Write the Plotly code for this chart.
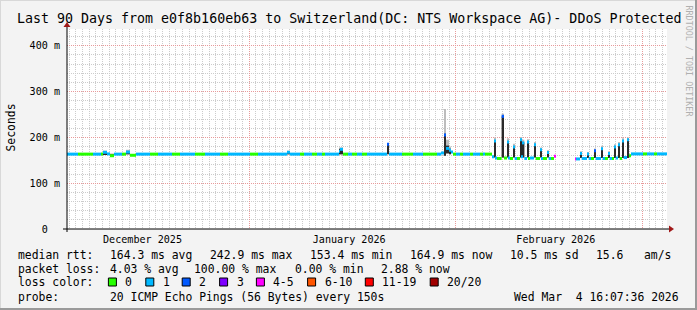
import plotly.graph_objects as go
import pandas as pd

# ---------------- data ----------------
start = pd.Timestamp("2025-12-04 16:07:36")
end = pd.Timestamp("2026-03-04 16:07:36")

# median rtt: start of each step (days from start), value (ms), loss bucket; None = no data
t_days = [0.0, 1.65, 3.9, 5.1, 5.4, 6.0, 6.45, 7.05, 8.25, 8.85, 9.45, 10.35, 12.45, 13.65,
          15.75, 16.95, 19.2, 20.7, 22.95, 24.15, 27.45, 28.65, 33.0, 33.45, 34.95, 35.55,
          36.75, 37.5, 38.25, 38.7, 40.8, 40.95, 41.4, 42.15, 42.75, 43.5, 44.25, 45.0,
          48.0, 48.3, 50.25, 51.9, 53.4, 55.5, 56.1, 56.55, 56.85, 57.3, 57.6, 57.9, 58.35,
          58.95, 59.4, 60.45, 60.9, 61.95, 62.4, 62.7,
          63.75, 64.05, 64.3, 64.5, 65.2, 65.55, 66.0, 66.25, 66.45, 66.9, 67.15, 67.5,
          67.95, 68.2, 68.35, 68.6, 69.0, 69.25, 69.45, 70.05, 70.3, 70.95, 71.2, 71.4,
          72.0, 72.25, 72.6, 73.05, 73.35,
          76.2, 76.35, 76.95, 77.2, 78.0, 78.25, 78.6, 79.05, 79.3, 80.1, 80.35, 80.7,
          81.15, 81.4, 81.75, 82.05, 82.3, 82.65, 82.9, 83.25, 83.5, 84.0, 84.3, 84.6,
          86.4, 87.0, 88.05, 88.5, 90.0]
median_ms = [163.5, 163.5, 163.5, 164, 167.5, 164, 160, 163.5, 163.5, 168, 161, 163.5, 163.5, 163.5,
             163.5, 163.5, 163.5, 163.5, 163.5, 163.5, 163.5, 163.5, 167.5, 163.5, 163.5, 163.5,
             163.5, 163.5, 163.5, 163.5, 170, 174, 163.5, 163.5, 163.5, 163.5, 163.5, 163.5,
             185, 163.5, 163.5, 163.5, 163.5, 163.5, 166, 205, 176, 172, 168, 163.5, 163.5,
             163.5, 163.5, 163.5, 163.5, 163.5, 163.5, 163.5,
             158, 192, 155, 154, 246, 155, 190, 155, 154, 179, 154, 154,
             195, 158, 188, 154, 190, 154, 155, 184, 154, 173, 154, 154,
             167, 154, 154, 159, None,
             153, 153, 165, 154, 164, 154, 154, 171, 154, 175, 154, 154,
             165, 154, 154, 179, 155, 184, 154, 192, 156, 195, 160, 164,
             164, 164, 164, 164, None]
loss_idx = [1, 0, 1, 0, 1, 1, 0, 1, 0, 1, 0, 1, 0, 1,
            0, 1, 0, 1, 0, 1, 0, 1, 1, 1, 0, 1,
            0, 1, 0, 1, 1, 1, 0, 1, 0, 1, 0, 1,
            2, 1, 0, 1, 0, 1, 1, 2, 1, 1, 1, 0, 1,
            0, 1, 0, 1, 0, 1, 0,
            1, 1, 1, 0, 2, 0, 1, 1, 0, 1, 1, 0,
            1, 1, 1, 1, 1, 0, 1, 1, 0, 1, 1, 0,
            1, 1, 0, 4, 0,
            4, 1, 1, 1, 1, 1, 0, 2, 1, 1, 1, 0,
            1, 1, 0, 1, 1, 1, 0, 1, 1, 1, 0, 1,
            0, 1, 0, 1, 0]

# ping spread (smoke): start/end day, lowest ping, upper edge of dense band, highest ping (ms)
smoke_start = [5.4, 6.45, 8.85, 33.0, 40.8, 48.0, 56.55, 56.85, 57.3,
               64.05, 65.2, 66.0, 66.9, 67.95, 68.35, 69.0, 70.05, 70.95, 72.0,
               76.95, 78.0, 79.05, 80.1, 81.15, 82.05, 82.65, 83.25, 84.0]
smoke_end = [6.0, 7.05, 9.45, 33.45, 41.4, 48.3, 56.85, 57.3, 57.6,
             64.3, 65.55, 66.25, 67.15, 68.2, 68.6, 69.25, 70.3, 71.2, 72.25,
             77.2, 78.25, 79.3, 80.35, 81.4, 82.3, 82.9, 83.5, 84.3]
smoke_lo = [163, 158, 163, 163, 163, 163, 160, 165, 163,
            156, 156, 156, 156, 156, 156, 156, 156, 156, 156,
            155, 155, 155, 155, 155, 155, 155, 155, 155]
smoke_hi = [165, 163, 170, 168, 175, 186, 208, 182, 175,
            192, 246, 190, 179, 195, 189, 190, 184, 173, 167,
            165, 164, 171, 175, 165, 180, 184, 192, 195]
smoke_top = [171, 165, 173, 171, 178, 188, 262, 195, 180,
             200, 252, 198, 186, 201, 195, 196, 190, 178, 172,
             170, 168, 176, 182, 170, 185, 190, 198, 200]

loss_labels = ["0", "1", "2", "3", "4-5", "6-10", "11-19", "20/20"]
loss_colors = ["#26ff00", "#00b8ff", "#0059ff", "#7e00ff", "#ff00ff", "#ff5500", "#ff0000", "#a10000"]

y_tick_vals = [0, 100, 200, 300, 400]
y_tick_text = ["0\u00a0\u00a0", "100 m", "200 m", "300 m", "400 m"]
month_starts = ["2026-01-01", "2026-02-01", "2026-03-01"]
month_label_pos = ["2025-12-16", "2026-01-16", "2026-02-16"]
month_labels = ["December 2025", "January 2026", "February 2026"]

title = "Last 90 Days from e0f8b160eb63 to Switzerland(DC: NTS Workspace AG)- DDoS Protected"
legend_rows = [
    [("median rtt:", 16.4), ("164.3 ms avg", 107.6), ("242.9 ms max", 207.6), ("153.4 ms min", 307.6),
     ("164.9 ms now", 407.6), ("10.5 ms sd", 507.6), ("15.6", 594), ("am/s", 642)],
    [("packet loss:", 16.4), ("4.03 % avg", 107.6), ("100.00 % max", 192), ("0.00 % min", 293.3),
     ("2.88 % now", 378.7)],
]
probe_text = "20 ICMP Echo Pings (56 Bytes) every 150s"
date_text = "Wed Mar  4 16:07:36 2026"

# ---------------- geometry ----------------
W, H = 697, 310
L, R, T, B = 67, 30, 29, 81
PW, PH = W - L - R, H - T - B
YMAX = 436.7
MONO = "DejaVu Sans Mono"
DAY_MS = 86400000


def px(x):
    return (x - L) / PW


def py(y):
    return (H - B - y) / PH


def day(d):
    return start + pd.Timedelta(days=d)


mid, wid, med, mcol = [], [], [], []
for i in range(len(t_days) - 1):
    if median_ms[i] is None:
        continue
    mid.append(day((t_days[i] + t_days[i + 1]) / 2))
    wid.append((t_days[i + 1] - t_days[i]) * DAY_MS)
    med.append(median_ms[i])
    mcol.append(loss_colors[loss_idx[i]])

s_mid = [day((a + b) / 2) for a, b in zip(smoke_start, smoke_end)]
s_wid = [(b - a) * DAY_MS for a, b in zip(smoke_start, smoke_end)]

half = 1.5 * YMAX / PH  # median tick half-thickness (1.5 px)

fig = go.Figure()
fig.add_trace(go.Bar(x=s_mid, y=[t - l for t, l in zip(smoke_top, smoke_lo)], base=smoke_lo, width=s_wid,
                     marker=dict(color="#bdbdbd", line=dict(width=0)), hoverinfo="skip"))
fig.add_trace(go.Bar(x=s_mid, y=[h - l for h, l in zip(smoke_hi, smoke_lo)], base=smoke_lo, width=s_wid,
                     marker=dict(color="#2a2a2a", line=dict(width=0)), hoverinfo="skip"))
fig.add_trace(go.Bar(x=mid, y=[2 * half] * len(med), base=[v - half for v in med], width=wid,
                     marker=dict(color=mcol, line=dict(width=0)), hoverinfo="skip"))
fig.add_trace(go.Scatter(x=[], y=[], xaxis="x2", yaxis="y"))

shapes = []
# axis lines and arrows
shapes.append(dict(type="line", xref="paper", yref="paper", x0=px(63), x1=px(670), y0=0, y1=0,
                   line=dict(color="black", width=1)))
shapes.append(dict(type="line", xref="paper", yref="paper", x0=0, x1=0, y0=py(232), y1=py(25),
                   line=dict(color="black", width=1)))
shapes.append(dict(type="path", xref="paper", yref="paper",
                   path=f"M {px(669)} {py(225.5)} L {px(674)} {py(229)} L {px(669)} {py(232.5)} Z",
                   fillcolor="#a01818", line=dict(width=0)))
shapes.append(dict(type="path", xref="paper", yref="paper",
                   path=f"M {px(63.5)} {py(27)} L {px(67)} {py(22)} L {px(70.5)} {py(27)} Z",
                   fillcolor="#a01818", line=dict(width=0)))
# 3D frame
shapes.append(dict(type="line", xref="paper", yref="paper", x0=px(0), x1=px(697), y0=py(0.5), y1=py(0.5),
                   line=dict(color="#d8d8d8", width=1)))
shapes.append(dict(type="line", xref="paper", yref="paper", x0=px(0.5), x1=px(0.5), y0=py(0), y1=py(310),
                   line=dict(color="#d8d8d8", width=1)))
shapes.append(dict(type="line", xref="paper", yref="paper", x0=px(0), x1=px(697), y0=py(309), y1=py(309),
                   line=dict(color="#9a9a9a", width=2)))
shapes.append(dict(type="line", xref="paper", yref="paper", x0=px(696), x1=px(696), y0=py(0), y1=py(310),
                   line=dict(color="#9a9a9a", width=2)))

annotations = []
annotations.append(dict(text=title, x=px(348.5), y=py(18), xref="paper", yref="paper", showarrow=False,
                        xanchor="center", yanchor="middle", font=dict(family=MONO, size=13.3, color="black")))
annotations.append(dict(text="Seconds", textangle=-90, x=px(10.5), y=py(128), xref="paper", yref="paper",
                        showarrow=False, xanchor="center", yanchor="middle",
                        font=dict(family=MONO, size=11.4, color="black")))
annotations.append(dict(text="RRDTOOL / TOBI OETIKER", textangle=90, x=px(688.5), y=py(61), xref="paper",
                        yref="paper", showarrow=False, xanchor="center", yanchor="middle",
                        font=dict(family=MONO, size=8.4, color="#b0b0b0")))
LEG = dict(family=MONO, size=11.4, color="black")
for row, yy in zip(legend_rows, [255, 268.5]):
    for txt, xx in row:
        annotations.append(dict(text=txt.replace(" ", "\u00a0"), x=px(xx), y=py(yy), xref="paper",
                                yref="paper", showarrow=False, xanchor="left", yanchor="middle", font=LEG))
annotations.append(dict(text="loss\u00a0color:", x=px(16.4), y=py(282), xref="paper", yref="paper",
                        showarrow=False, xanchor="left", yanchor="middle", font=LEG))
box_x = [108.4, 145.8, 182.2, 219.6, 256.4, 307.6, 365.3, 430.2]
for lab, col, bx in zip(loss_labels, loss_colors, box_x):
    shapes.append(dict(type="rect", xref="paper", yref="paper", x0=px(bx), x1=px(bx + 8),
                       y0=py(286), y1=py(278), fillcolor=col, line=dict(color="black", width=1)))
    annotations.append(dict(text=lab, x=px(bx + 15), y=py(282), xref="paper", yref="paper",
                            showarrow=False, xanchor="left", yanchor="middle", font=LEG))
annotations.append(dict(text="probe:", x=px(16.4), y=py(296.5), xref="paper", yref="paper",
                        showarrow=False, xanchor="left", yanchor="middle", font=LEG))
annotations.append(dict(text=probe_text.replace(" ", "\u00a0"), x=px(107.6), y=py(296.5), xref="paper",
                        yref="paper", showarrow=False, xanchor="left", yanchor="middle", font=LEG))
annotations.append(dict(text=date_text.replace(" ", "\u00a0"), x=px(680.5), y=py(296.5), xref="paper",
                        yref="paper", showarrow=False, xanchor="right", yanchor="middle", font=LEG))

fig.update_layout(
    width=W, height=H, margin=dict(l=L, r=R, t=T, b=B, pad=0),
    paper_bgcolor="#f3f3f3", plot_bgcolor="white", showlegend=False, barmode="overlay",
    xaxis=dict(type="date", range=[start, end], tickmode="array", tickvals=month_starts,
               showticklabels=False, ticks="", showgrid=True, gridcolor="#e89a9a", griddash="1px,1px",
               gridwidth=1, zeroline=False, showline=False,
               minor=dict(showgrid=True, tick0="2025-12-05", dtick=DAY_MS, gridcolor="#cccccc",
                          griddash="1px,1px", gridwidth=1, ticks="")),
    xaxis2=dict(type="date", range=[start, end], overlaying="x", anchor="y", side="bottom",
                tickmode="array", tickvals=month_label_pos, ticktext=month_labels, ticks="",
                showgrid=False, zeroline=False, showline=False, ticklabelstandoff=3,
                tickfont=dict(family=MONO, size=10.1, color="black")),
    yaxis=dict(range=[0, YMAX], tickmode="array", tickvals=y_tick_vals, ticktext=y_tick_text,
               ticks="", showgrid=True, gridcolor="#e89a9a", griddash="1px,1px", gridwidth=1,
               zeroline=False, showline=False, ticklabelstandoff=6,
               tickfont=dict(family=MONO, size=10.1, color="black"),
               minor=dict(showgrid=True, dtick=20, tick0=0, gridcolor="#cccccc", griddash="1px,1px",
                          gridwidth=1, ticks="")),
    shapes=shapes, annotations=annotations,
)
fig.write_html("out.html")
